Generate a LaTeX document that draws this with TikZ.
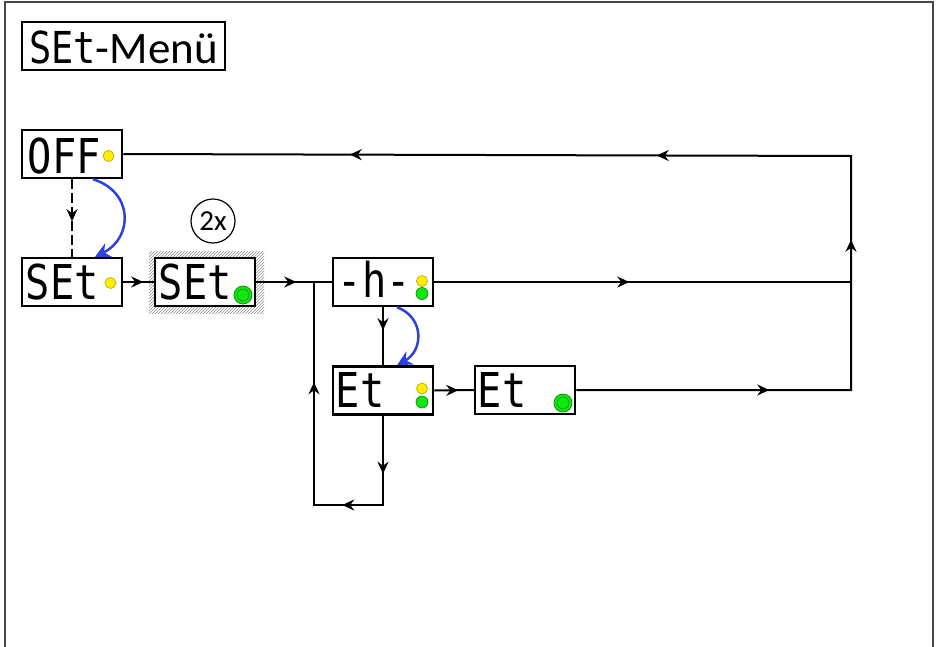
\documentclass[tikz,border=0pt]{standalone}
\usepackage{fontspec}
\setmainfont{Carlito}
\newfontfamily\segfont{DejaVu Sans Mono}
\usetikzlibrary{arrows.meta,decorations.markings,patterns}
\definecolor{dotyellow}{RGB}{255,238,0}
\definecolor{dotyellowline}{RGB}{190,170,0}
\definecolor{dotgreen}{RGB}{20,230,20}
\definecolor{dotgreenline}{RGB}{0,150,0}
\definecolor{arcblue}{RGB}{45,65,220}
\definecolor{framegray}{RGB}{70,70,70}
\tikzset{
  dbox/.style={draw=black, line width=2.5pt, fill=white, minimum width=100pt, minimum height=48pt, inner sep=0pt},
  segtxt/.style={anchor=base west, inner sep=0pt, font=\segfont\fontsize{48}{48}\selectfont},
  ydot/.style={circle, draw=dotyellowline, fill=dotyellow, line width=0.7pt, minimum size=11pt, inner sep=0pt},
  gdot/.style={circle, draw=dotgreenline, fill=dotgreen, line width=0.7pt, minimum size=12pt, inner sep=0pt},
  gdotbig/.style={circle, draw=dotgreenline, fill=dotgreen, line width=0.8pt, minimum size=18pt, inner sep=0pt,
    path picture={\draw[dotgreenline, line width=0.6pt] (path picture bounding box.center) circle (6pt);}},
  conn/.style={draw=black, line width=2pt},
  marr/.style={postaction={decorate, decoration={markings, mark=at position #1 with {\arrow{Stealth[length=12pt,width=11pt,inset=4pt]}}}}},
  bluearc/.style={draw=arcblue, line width=2.5pt, -{Stealth[length=15pt,width=15pt,inset=5pt]}},
}
\begin{document}
\begin{tikzpicture}[x=1pt,y=-1pt]
\useasboundingbox (0,0) rectangle (939,646);
% frame
\draw[framegray, line width=2pt] (5,652) -- (5,2) -- (933,2) -- (933,652);
% title
\node[draw=black, line width=2pt, minimum width=203pt, minimum height=48pt, inner sep=0pt] (title) at (123.5,46) {};
\node[anchor=base west, inner sep=0pt] (titletext) at (29,63) {{\segfont\fontsize{44}{44}\selectfont\scalebox{0.84}[1]{SEt}}{\fontsize{45}{45}\selectfont -Menü}};
% boxes
\node[dbox] (off) at (72,154) {};
\node[dbox] (set1) at (72,282) {};
\fill[pattern=north east lines, pattern color=black!45] (149,251) rectangle (264,313);
\node[dbox] (set2) at (205,282) {};
\node[dbox] (hh) at (383,282) {};
\node[dbox] (et1) at (383,390.5) {};
\node[dbox] (et2) at (525,390) {};
% texts
\node[segtxt] (offt) at ([xshift=7pt,yshift=6pt]off.south west) {\scalebox{0.84}[1]{OFF}};
\node[segtxt] (set1t) at ([xshift=5pt,yshift=8pt]set1.south west) {\scalebox{0.84}[1]{SEt}};
\node[segtxt] (set2t) at ([xshift=5pt,yshift=8pt]set2.south west) {\scalebox{0.84}[1]{SEt}};
\node[segtxt] (hht) at ([xshift=6pt,yshift=10pt]hh.south west) {\scalebox{0.84}[1]{-h-}};
\node[segtxt] (et1t) at ([xshift=4pt,yshift=8pt]et1.south west) {\scalebox{0.84}[1]{Et}};
\node[segtxt] (et2t) at ([xshift=4pt,yshift=8pt]et2.south west) {\scalebox{0.84}[1]{Et}};
% dots
\node[ydot] (offd) at (108.5,156) {};
\node[ydot] (set1d) at (110.5,283) {};
\node[gdotbig] (set2d) at (243,295) {};
\node[ydot] (hhy) at (422,281) {};
\node[gdot] (hhg) at (422,293.5) {};
\node[ydot] (et1y) at (422,388.5) {};
\node[gdot] (et1g) at (422,402) {};
\node[gdotbig] (et2d) at (563,403) {};
% 2x
\node[circle, draw=black, line width=1.2pt, minimum size=44pt, inner sep=0pt, font=\fontsize{29}{29}\selectfont] (twox) at (213,221) {2x};
% coordinates
\coordinate (j1) at (314,282);
\coordinate (j2) at (314,505);
\coordinate (j3) at (383,505);
\coordinate (c1) at (851,390);
\coordinate (c2) at (851,156);
\coordinate (c3) at (851,282);
% connectors
\draw[conn, dash pattern=on 10pt off 4pt, marr=42pt] (off.south) -- (set1.north);
\draw[bluearc] ([xshift=21pt]off.south) .. controls (134,192) and (133,238) .. ([xshift=23pt]set1.north);
\draw[conn, marr=20pt] (set1.east) -- (set2.west);
\draw[conn, marr=40pt] (set2.east) -- (hh.west);
\draw[conn, marr=23pt] (hh.south) -- (et1.north);
\draw[bluearc] ([xshift=14pt]hh.south) .. controls (424,317) and (424,350) .. ([xshift=14pt]et1.north);
\draw[conn, marr=24pt] (et1.east) -- (et2.west);
\draw[conn, line join=miter, marr=58pt, marr=130pt, marr=281pt] (et1.south) -- (j3) -- (j2) -- (j1);
\draw[conn, marr=195pt] (hh.east) -- (c3);
\draw[conn, line join=miter, marr=193pt, marr=425pt, marr=703pt, marr=1010pt] (et2.east) -- (c1) -- (c2) -- (off.east);
\end{tikzpicture}
\end{document}
